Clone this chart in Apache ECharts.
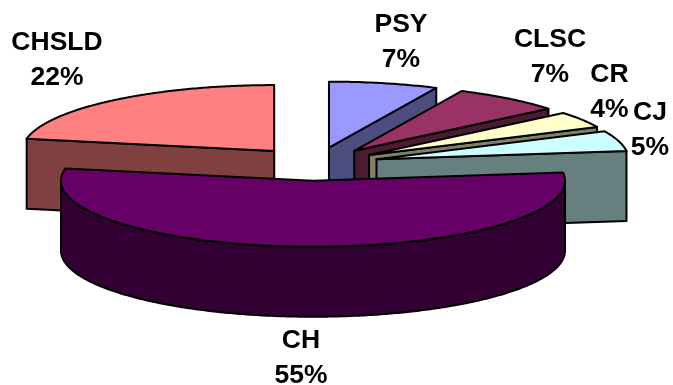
<!DOCTYPE html>
<html><head><meta charset="utf-8">
<style>html,body{margin:0;padding:0;background:#fff}#c{width:673px;height:385px}</style>
<script src="https://cdn.jsdelivr.net/npm/echarts@6/dist/echarts.min.js"></script>
</head><body><div id="c"></div>
<script>
const categories = ['PSY','CLSC','CR','CJ','CH','CHSLD'];
const shares = [7,7,4,5,55,22];
const topColors = ['#9999ff','#993366','#ffffcc','#ccffff','#660066','#ff8080'];
const sideColors = ['#4d4d80','#4d1a33','#808066','#668080','#330033','#804040'];
const labelCenters = [[401,42],[550,57],[609.5,92],[650,130],[301,358],[57,60]];

const pie = {cx:315, cy:164, rx:252, ry:66, depth:70, explode:64};
const total = shares.reduce((a,b)=>a+b,0);
let acc = 0;
const rows = categories.map((c,i)=>{
  const a0 = acc/total*Math.PI*2; acc += shares[i];
  const a1 = acc/total*Math.PI*2;
  return {value:[a0,a1,shares[i],i], sortKey:Math.cos((a0+a1)/2)};
}).sort((p,q)=>q.sortKey-p.sortKey);

function renderItem(params, api){
  const a0=api.value(0), a1=api.value(1), i=api.value(3);
  const mid=(a0+a1)/2;
  const ax=pie.cx+pie.explode*Math.sin(mid);
  const ay=pie.cy-pie.explode*Math.cos(mid)*pie.ry/pie.rx;
  const pt=(a,d)=>[ax+pie.rx*Math.sin(a), ay-pie.ry*Math.cos(a)+(d||0)];
  const arc=(s,e,d)=>{const n=Math.max(2,Math.ceil((e-s)/0.01)),o=[];for(let k=0;k<=n;k++)o.push(pt(s+(e-s)*k/n,d));return o;};
  const stroke={stroke:'#000',lineWidth:2,lineJoin:'round'};
  const children=[];
  const side=(points)=>children.push({type:'polygon',shape:{points},style:{fill:sideColors[i],...stroke}});
  const cut=(a)=>side([[ax,ay],pt(a),pt(a,pie.depth),[ax,ay+pie.depth]]);
  if(Math.sin(a0)<-1e-6) cut(a0);
  if(Math.sin(a1)>1e-6) cut(a1);
  const s=Math.max(a0,Math.PI/2), e=Math.min(a1,Math.PI*1.5);
  if(e>s){ side(arc(s,e,0).concat(arc(s,e,pie.depth).reverse())); }
  children.push({type:'polygon',shape:{points:[[ax,ay]].concat(arc(a0,a1,0))},style:{fill:topColors[i],...stroke}});
  return {type:'group',children};
}

function renderLabel(params, api){
  const i=api.value(3), p=labelCenters[i];
  return {type:'text',x:p[0],y:p[1],style:{
    text:categories[i]+'\n'+api.value(2)+'%',
    fill:'#000',align:'center',verticalAlign:'middle',
    font:'bold 26.5px "Liberation Sans", Arial, sans-serif',lineHeight:35
  }};
}

const chart=echarts.init(document.getElementById('c'),null,{renderer:'canvas'});
chart.setOption({
  animation:false,
  backgroundColor:'#ffffff',
  series:[
    {type:'custom',coordinateSystem:'none',renderItem,data:rows,silent:true,clip:false,z:1},
    {type:'custom',coordinateSystem:'none',renderItem:renderLabel,data:rows,silent:true,clip:false,z:2}
  ]
});
</script></body></html>
